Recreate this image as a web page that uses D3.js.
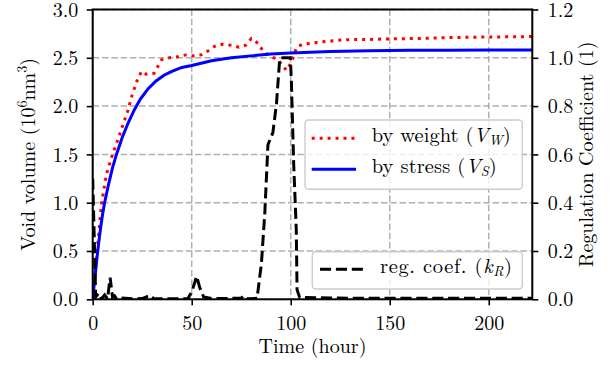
<!DOCTYPE html>
<html>
<head>
<meta charset="utf-8">
<script src="https://cdn.jsdelivr.net/npm/d3@7"></script>
<style>
  body { margin: 0; background: #fff; }
  svg { display: block; }
</style>
</head>
<body>
<svg id="chart" width="613" height="368"></svg>
<script>
// Void volume estimated from specimen weight (left axis)
const weightTime = [0, 2, 4.5, 7, 10, 13, 15, 17.7, 20, 22.7, 24.7, 27, 31, 34.8, 38.7, 43, 47, 51, 54.7, 58.2,
  61.6, 65.5, 69.7, 73.9, 77.3, 80.1, 83.5, 85.7, 89, 92.8, 95.3, 97.8, 100.3, 102, 103, 106, 110, 115, 123, 131,
  140, 148, 165, 182, 199, 222];
const weightVolume = [0, 0.45, 1.0, 1.3, 1.5, 1.67, 1.79, 1.95, 2.12, 2.28, 2.36, 2.33, 2.34, 2.48, 2.50, 2.51, 2.53, 2.52, 2.53, 2.57,
  2.62, 2.64, 2.63, 2.61, 2.63, 2.70, 2.65, 2.58, 2.52, 2.49, 2.44, 2.37, 2.45, 2.55, 2.61, 2.64, 2.65, 2.665, 2.68, 2.69,
  2.69, 2.695, 2.70, 2.71, 2.715, 2.72];

// Void volume estimated from stress (left axis)
const stressTime = [0, 1, 2, 3, 4, 5, 6, 8, 10, 12, 15, 18, 21, 24, 28, 32, 36, 40, 45, 50,
  60, 70, 80, 90, 100, 120, 140, 160, 180, 200, 222];
const stressVolume = [0, 0.2, 0.4, 0.58, 0.74, 0.88, 1.0, 1.19, 1.36, 1.5, 1.68, 1.83, 1.96, 2.07, 2.18, 2.26, 2.32, 2.36, 2.40, 2.42,
  2.47, 2.50, 2.52, 2.54, 2.55, 2.565, 2.573, 2.577, 2.579, 2.58, 2.58];

// Regulation coefficient k_R (right axis)
const coefTime = [0, 0.8, 1.5, 3, 4.5, 6, 7.5, 8.8, 10, 11, 12, 14, 20, 25, 29, 31, 40, 48, 50, 52.5,
  54, 56, 60, 70, 75, 76.5, 78, 83, 85.2, 86.9, 88.5, 91, 92.8, 94.4, 94.8, 99.8, 100.3, 101.5, 102.8, 103.2,
  104.5, 120, 150, 222];
const coefValue = [0.5, 0.25, 0.01, 0.025, 0.003, 0.018, 0.002, 0.09, 0.01, 0.015, 0.002, 0.006, 0.002, 0.003, 0.016, 0.002, 0.002, 0.002, 0.03, 0.095,
  0.05, 0.01, 0.003, 0.004, 0.005, 0.015, 0.002, 0.004, 0.148, 0.356, 0.64, 0.69, 0.81, 0.99, 1.0, 1.0, 0.91, 0.56, 0.29, 0.04,
  0.008, 0.005, 0.004, 0.004];

const xTicks = [0, 50, 100, 150, 200];
const leftTicks = [0, 0.5, 1.0, 1.5, 2.0, 2.5, 3.0];
const rightTicks = [0, 0.2, 0.4, 0.6, 0.8, 1.0, 1.2];

const FONT = '"Latin Modern Roman", "Liberation Serif", serif';
const svg = d3.select("#chart");
const L = 92.7, R = 532.3, T = 9.5, B = 299.3;

const x = d3.scaleLinear().domain([0, 222]).range([L, R]);
const yL = d3.scaleLinear().domain([0, 3]).range([B, T]);
const yR = d3.scaleLinear().domain([0, 1.2]).range([B, T]);

svg.append("defs").append("clipPath").attr("id", "plot")
  .append("rect").attr("x", L).attr("y", T).attr("width", R - L).attr("height", B - T);

// grid
const grid = svg.append("g").attr("stroke", "#b0b0b0").attr("stroke-width", 1.5)
  .attr("stroke-dasharray", "6.5,2.8").attr("fill", "none");
grid.selectAll("line.v").data(xTicks).join("line").attr("class", "v")
  .attr("x1", d => x(d)).attr("x2", d => x(d)).attr("y1", T).attr("y2", B);
grid.selectAll("line.h").data(leftTicks).join("line").attr("class", "h")
  .attr("x1", L).attr("x2", R).attr("y1", d => yL(d)).attr("y2", d => yL(d));

const plot = svg.append("g").attr("clip-path", "url(#plot)");

const toPts = (ts, vs) => ts.map((t, i) => [t, vs[i]]);
const lineL = d3.line().x(d => x(d[0])).y(d => yL(d[1]));
const lineR = d3.line().x(d => x(d[0])).y(d => yR(d[1]));

plot.append("path").datum(toPts(weightTime, weightVolume)).attr("d", lineL)
  .attr("fill", "none").attr("stroke", "#ff0000").attr("stroke-width", 3)
  .attr("stroke-dasharray", "3,4.95");
plot.append("path").datum(toPts(stressTime, stressVolume)).attr("d", lineL)
  .attr("fill", "none").attr("stroke", "#0000ff").attr("stroke-width", 3);

function styled(t, size) {
  return t.style("font-family", FONT).style("font-size", size + "px").attr("fill", "#000");
}

// label of the form "<pre>(<sym>_<sub>)" with math italics
function mathLabel(sel, pre, sym, sub) {
  sel.append("tspan").text(pre + "(");
  sel.append("tspan").style("font-style", "italic").text(sym);
  sel.append("tspan").style("font-style", "italic").style("font-size", "14px").attr("dy", 3).text(sub);
  sel.append("tspan").attr("dy", -3).text(")");
}

// legend for the left-axis series
const leg1 = svg.append("g");
leg1.append("rect").attr("x", 305).attr("y", 120).attr("width", 217.3).attr("height", 69.3)
  .attr("rx", 3.5).attr("fill", "#fff").attr("fill-opacity", 0.8)
  .attr("stroke", "#cccccc").attr("stroke-width", 1.4);
leg1.append("line").attr("x1", 311.7).attr("x2", 356).attr("y1", 138.3).attr("y2", 138.3)
  .attr("stroke", "#ff0000").attr("stroke-width", 3).attr("stroke-dasharray", "3,4.95");
leg1.append("line").attr("x1", 311.7).attr("x2", 356).attr("y1", 169.3).attr("y2", 169.3)
  .attr("stroke", "#0000ff").attr("stroke-width", 3);
styled(leg1.append("text").attr("x", 371.7).attr("y", 141.8), 20.5)
  .attr("textLength", 139).attr("lengthAdjust", "spacing")
  .call(mathLabel, "by weight ", "V", "W");
styled(leg1.append("text").attr("x", 371.7).attr("y", 173.3), 20.5)
  .attr("textLength", 125).attr("lengthAdjust", "spacing")
  .call(mathLabel, "by stress ", "V", "S");

// right-axis series
const plot2 = svg.append("g").attr("clip-path", "url(#plot)");
plot2.append("path").datum(toPts(coefTime, coefValue)).attr("d", lineR)
  .attr("fill", "none").attr("stroke", "#000").attr("stroke-width", 3)
  .attr("stroke-dasharray", "11.1,4.8");

const leg2 = svg.append("g");
leg2.append("rect").attr("x", 312.3).attr("y", 251.7).attr("width", 210).attr("height", 37.3)
  .attr("rx", 3.5).attr("fill", "#fff").attr("fill-opacity", 0.8)
  .attr("stroke", "#cccccc").attr("stroke-width", 1.4);
leg2.append("line").attr("x1", 320).attr("x2", 363.3).attr("y1", 269.3).attr("y2", 269.3)
  .attr("stroke", "#000").attr("stroke-width", 3).attr("stroke-dasharray", "11.1,4.8");
styled(leg2.append("text").attr("x", 380).attr("y", 273.3), 20.5)
  .attr("textLength", 132).attr("lengthAdjust", "spacing")
  .call(mathLabel, "reg. coef. ", "k", "R");

// frame
svg.append("rect").attr("x", L).attr("y", T).attr("width", R - L).attr("height", B - T)
  .attr("fill", "none").attr("stroke", "#000").attr("stroke-width", 2);

// axes
const fmt = d3.format(".1f");
const axB = svg.append("g").attr("transform", `translate(0,${B})`)
  .call(d3.axisBottom(x).tickValues(xTicks).tickSize(6).tickPadding(11).tickFormat(d3.format("d")));
const axL = svg.append("g").attr("transform", `translate(${L},0)`)
  .call(d3.axisLeft(yL).tickValues(leftTicks).tickSize(6).tickPadding(8.5).tickFormat(fmt));
const axR = svg.append("g").attr("transform", `translate(${R},0)`)
  .call(d3.axisRight(yR).tickValues(rightTicks).tickSize(6).tickPadding(9.5).tickFormat(fmt));
[axB, axL, axR].forEach(a => {
  a.select(".domain").remove();
  a.selectAll(".tick line").attr("stroke", "#000").attr("stroke-width", 1.6);
  styled(a.selectAll(".tick text"), 20);
});
axB.selectAll(".tick text").attr("dy", "0.71em");
axL.selectAll(".tick text").attr("dy", "0.33em");
axR.selectAll(".tick text").attr("dy", "0.33em");

// axis titles
styled(svg.append("text"), 20).attr("x", (L + R) / 2).attr("y", 353)
  .attr("text-anchor", "middle").text("Time (hour)");

const yl = styled(svg.append("text"), 20)
  .attr("transform", `translate(34.5,${(T + B) / 2}) rotate(-90)`).attr("text-anchor", "middle");
yl.append("tspan").text("Void volume (10");
yl.append("tspan").style("font-size", "14px").attr("dy", -8).text("6");
yl.append("tspan").attr("dy", 8).text("nm");
yl.append("tspan").style("font-size", "14px").attr("dy", -8).text("3");
yl.append("tspan").attr("dy", 8).text(")");

styled(svg.append("text"), 20)
  .attr("transform", `translate(593,${(T + B) / 2}) rotate(-90)`)
  .attr("text-anchor", "middle").text("Regulation Coefficient (1)");
</script>
</body>
</html>
